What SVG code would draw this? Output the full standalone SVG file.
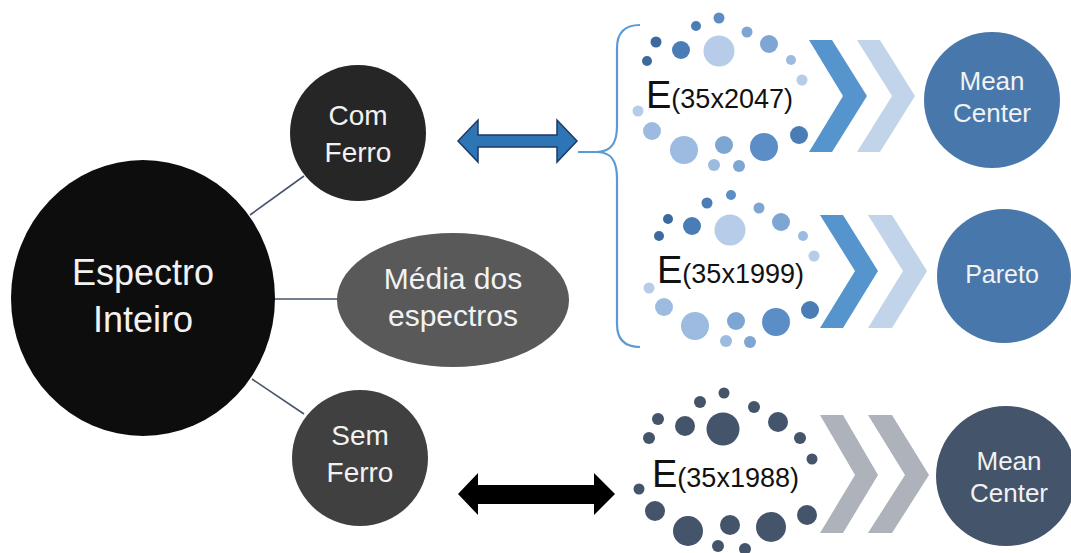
<svg xmlns="http://www.w3.org/2000/svg" width="1071" height="553" viewBox="0 0 1071 553">
<style>
.wt{fill:#f2f2f2;font-family:"Liberation Sans",Arial,sans-serif;text-anchor:middle}
.et{fill:#111;font-family:"Liberation Sans",Arial,sans-serif}
.conn{stroke:#44546a;stroke-width:1.6;fill:none}
.d1{fill:#3c6a9c}.d2{fill:#4a7db5}.d3{fill:#5b8ec6}.d4{fill:#7ea6d3}.d5{fill:#9dbbe0}.d6{fill:#b7cce8}
.g{fill:#44546a}
.chA{fill:#5694cd}.chB{fill:#c2d4ea}.chG{fill:#adb2bb}
</style>
<rect width="1071" height="553" fill="#fff"/>
<g id="connectors">
<line class="conn" x1="250" y1="215" x2="304" y2="176"/>
<line class="conn" x1="274" y1="299" x2="338" y2="299"/>
<line class="conn" x1="252" y1="379" x2="304" y2="414"/>
<path id="arrow-com" d="M458,141 L478,120 L478,135 L557,135 L557,120 L577,141 L557,162 L557,147 L478,147 L478,162 Z" fill="#2e75b6" stroke="#203864" stroke-width="1.5" stroke-linejoin="miter"/>
<path id="arrow-sem" d="M458,494 L478,473 L478,485 L594,485 L594,473 L615,494 L594,515 L594,504 L478,504 L478,515 Z" fill="#000"/>
<path id="brace" d="M640,25 C626,25 617,32 617,48 L617,126 C617,142 612,152 597,152 L578,152 M597,152 C612,152 617,162 617,178 L617,324 C617,340 626,347 640,347" fill="none" stroke="#5b9bd5" stroke-width="2.2"/>
</g>
<g id="node-espectro">
<ellipse cx="143" cy="298" rx="132" ry="138" fill="#0d0d0d"/>
<text class="wt" x="143" y="285" font-size="36">Espectro</text>
<text class="wt" x="143" y="332" font-size="36">Inteiro</text>
</g>
<g id="node-com-ferro">
<circle cx="358" cy="133" r="68" fill="#262626"/>
<text class="wt" x="358" y="125" font-size="28">Com</text>
<text class="wt" x="358" y="162" font-size="28">Ferro</text>
</g>
<g id="node-media">
<ellipse cx="453" cy="300" rx="116" ry="67" fill="#595959"/>
<text class="wt" x="453" y="289" font-size="30">Média dos</text>
<text class="wt" x="453" y="326" font-size="30">espectros</text>
</g>
<g id="node-sem-ferro">
<ellipse cx="360" cy="458" rx="68" ry="68" fill="#404040"/>
<text class="wt" x="360" y="445" font-size="28">Sem</text>
<text class="wt" x="360" y="482" font-size="28">Ferro</text>
</g>
<g id="node-e2047">
<circle class="d3" cx="719" cy="18" r="5.5"/>
<circle class="d2" cx="696" cy="26" r="5"/>
<circle class="d4" cx="747" cy="32" r="5.5"/>
<circle class="d1" cx="656" cy="42" r="5.5"/>
<circle class="d2" cx="681" cy="50" r="9"/>
<circle class="d6" cx="719" cy="51" r="15.5"/>
<circle class="d4" cx="769" cy="44" r="9"/>
<circle class="d1" cx="647" cy="61" r="5"/>
<circle class="d5" cx="791" cy="60" r="5"/>
<circle class="d6" cx="802" cy="80" r="5.5"/>
<circle class="d6" cx="638" cy="111" r="5.5"/>
<circle class="d5" cx="652" cy="131" r="9"/>
<circle class="d5" cx="684" cy="150" r="14"/>
<circle class="d4" cx="724" cy="145" r="9"/>
<circle class="d3" cx="764" cy="147" r="14"/>
<circle class="d2" cx="799" cy="135" r="9"/>
<circle class="d5" cx="714" cy="165" r="6"/>
<circle class="d4" cx="739" cy="166" r="6"/>
<text class="et" x="646" y="108"><tspan font-size="38">E</tspan><tspan font-size="27">(35x2047)</tspan></text>
</g>
<g id="node-e1999">
<circle class="d3" cx="731" cy="195" r="5"/>
<circle class="d2" cx="707" cy="203" r="5.5"/>
<circle class="d4" cx="759" cy="208" r="5.5"/>
<circle class="d1" cx="668" cy="219" r="5"/>
<circle class="d2" cx="692" cy="226" r="9"/>
<circle class="d6" cx="730" cy="230" r="15.5"/>
<circle class="d4" cx="781" cy="222" r="9"/>
<circle class="d1" cx="659" cy="236" r="5"/>
<circle class="d5" cx="803" cy="236" r="5"/>
<circle class="d6" cx="814" cy="256" r="5.5"/>
<circle class="d6" cx="649" cy="288" r="5.5"/>
<circle class="d5" cx="664" cy="307" r="9"/>
<circle class="d5" cx="695" cy="326" r="14"/>
<circle class="d4" cx="736" cy="321" r="9"/>
<circle class="d3" cx="776" cy="322" r="14"/>
<circle class="d2" cx="810" cy="310" r="9"/>
<circle class="d5" cx="726" cy="341" r="6"/>
<circle class="d4" cx="750" cy="342" r="6"/>
<text class="et" x="657" y="283"><tspan font-size="38">E</tspan><tspan font-size="27">(35x1999)</tspan></text>
</g>
<g id="node-e1988">
<circle class="g" cx="724" cy="393" r="5.5"/>
<circle class="g" cx="700" cy="402" r="6"/>
<circle class="g" cx="754" cy="407" r="6"/>
<circle class="g" cx="658" cy="419" r="6"/>
<circle class="g" cx="685" cy="426" r="10"/>
<circle class="g" cx="723" cy="429" r="16.5"/>
<circle class="g" cx="778" cy="422" r="10"/>
<circle class="g" cx="649" cy="438" r="6"/>
<circle class="g" cx="800" cy="438" r="6"/>
<circle class="g" cx="812" cy="459" r="5.5"/>
<circle class="g" cx="639" cy="489" r="5.5"/>
<circle class="g" cx="655" cy="511" r="10"/>
<circle class="g" cx="688" cy="531" r="15"/>
<circle class="g" cx="730" cy="525" r="10"/>
<circle class="g" cx="771" cy="527" r="15"/>
<circle class="g" cx="807" cy="515" r="10"/>
<circle class="g" cx="718" cy="546" r="6"/>
<circle class="g" cx="745" cy="549" r="6"/>
<text class="et" x="652" y="487"><tspan font-size="38">E</tspan><tspan font-size="27">(35x1988)</tspan></text>
</g>
<g id="chevrons-1">
<polygon class="chA" points="809,40 832,40 867,96 832,152 809,152 843,96"/>
<polygon class="chB" points="857,40 880,40 915,96 880,152 857,152 892,96"/>
</g>
<g id="chevrons-2">
<polygon class="chA" points="820,215 843,215 878,271 843,328 820,328 855,271"/>
<polygon class="chB" points="868,215 892,215 927,271 892,328 868,328 903,271"/>
</g>
<g id="chevrons-3">
<polygon class="chG" points="820,415 843,415 878,475 843,533 820,533 855,475"/>
<polygon class="chG" points="868,415 892,415 929,475 892,533 868,533 905,475"/>
</g>
<g id="node-mean-center-1">
<circle cx="992" cy="100" r="68" fill="#4878ab"/>
<text class="wt" x="992" y="90" font-size="26">Mean</text>
<text class="wt" x="992" y="122" font-size="26">Center</text>
</g>
<g id="node-pareto">
<circle cx="1004" cy="276" r="67" fill="#4878ab"/>
<text class="wt" x="1002" y="283" font-size="25">Pareto</text>
</g>
<g id="node-mean-center-2">
<circle cx="1006" cy="476" r="70" fill="#44546a"/>
<text class="wt" x="1009" y="470" font-size="26">Mean</text>
<text class="wt" x="1009" y="502" font-size="26">Center</text>
</g>
</svg>
